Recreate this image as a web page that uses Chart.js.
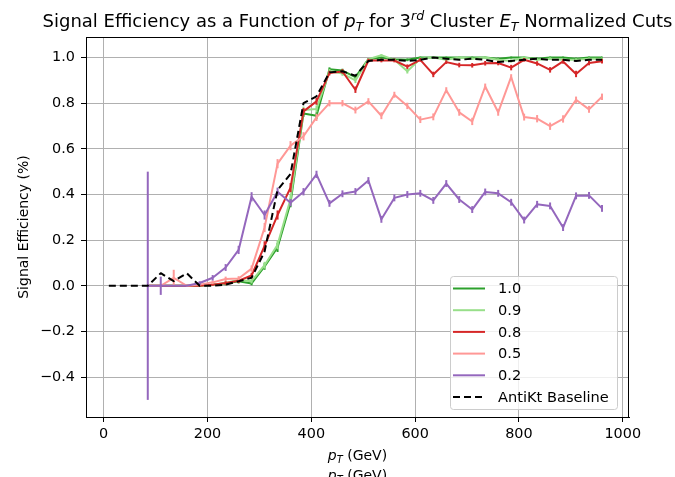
<!DOCTYPE html>
<html>
<head>
<meta charset="utf-8">
<style>
  html, body { margin: 0; padding: 0; background: #ffffff; }
  canvas { display: block; }
</style>
<script src="https://cdn.jsdelivr.net/npm/chart.js@4.4.1/dist/chart.umd.min.js"></script>
</head>
<body>
<canvas id="eff" width="675" height="477"></canvas>
<script>
// pT bin centres (GeV)
const PT_GEV = [10, 35, 60, 85, 110, 135, 160, 185, 210, 235, 260, 285, 310, 335, 360, 385, 410, 435, 460, 485,
                510, 535, 560, 585, 610, 635, 660, 685, 710, 735, 760, 785, 810, 835, 860, 885, 910, 935, 960];

const X_TICKS = [0, 200, 400, 600, 800, 1000];
const Y_TICKS = [-0.4, -0.2, 0.0, 0.2, 0.4, 0.6, 0.8, 1.0];

const CUT_LABELS = ['1.0', '0.9', '0.8', '0.5', '0.2'];
const BASELINE_LABEL = 'AntiKt Baseline';

// signal efficiency per cut value of the 3rd-cluster ET fraction
const EFF_CUT_10 = [null, null, null, 0, 0, 0, 0, 0, 0.005, 0.01, 0.02, 0.01, 0.085, 0.168, 0.364, 0.755, 0.745, 0.949, 0.943, 0.914,
                    0.993, 1.0, 0.993, 0.99, 1.0, 1.0, 1.0, 1.0, 1.0, 1.0, 0.995, 1.0, 1.0, 0.995, 1.0, 1.0, 0.995, 1.0, 1.0];
const EFF_CUT_09 = [null, null, null, 0, 0, 0, 0, 0, 0.005, 0.012, 0.025, 0.02, 0.09, 0.18, 0.38, 0.77, 0.775, 0.94, 0.93, 0.90,
                    0.993, 1.01, 0.99, 0.94, 0.995, 1.0, 0.99, 1.0, 0.995, 1.0, 0.99, 0.985, 1.0, 0.99, 0.995, 0.99, 0.99, 0.995, 0.995];
const EFF_CUT_08 = [null, null, null, 0, 0, 0, 0, 0, 0.005, 0.012, 0.022, 0.045, 0.175, 0.31, 0.43, 0.764, 0.808, 0.932, 0.939, 0.859,
                    0.987, 0.987, 0.987, 0.96, 0.99, 0.926, 0.98, 0.967, 0.966, 0.975, 0.976, 0.956, 0.99, 0.974, 0.946, 0.983, 0.928, 0.976, 0.984];
const EFF_CUT_05 = [null, null, null, 0, 0, 0.035, 0, 0.005, 0.015, 0.03, 0.032, 0.075, 0.255, 0.535, 0.614, 0.655, 0.738, 0.80, 0.80, 0.77,
                    0.808, 0.745, 0.837, 0.788, 0.728, 0.74, 0.857, 0.76, 0.72, 0.873, 0.76, 0.915, 0.739, 0.732, 0.699, 0.731, 0.815, 0.773, 0.828];
const EFF_CUT_02 = [null, null, null, 0, 0, 0, 0, 0.012, 0.035, 0.08, 0.157, 0.39, 0.31, 0.412, 0.364, 0.412, 0.488, 0.361, 0.403, 0.413,
                    0.461, 0.291, 0.385, 0.40, 0.405, 0.374, 0.448, 0.378, 0.334, 0.411, 0.405, 0.366, 0.288, 0.357, 0.35, 0.255, 0.394, 0.396, 0.339];

// statistical uncertainties on the efficiencies
const ERR_CUT_10 = [null, null, null, 0, 0, 0, 0, 0, 0.005, 0.008, 0.01, 0.008, 0.015, 0.02, 0.02, 0.015, 0.015, 0.008, 0.008, 0.01,
                    0.005, 0.004, 0.005, 0.006, 0.004, 0.004, 0.004, 0.004, 0.004, 0.004, 0.005, 0.004, 0.004, 0.005, 0.004, 0.004, 0.005, 0.004, 0.004];
const ERR_CUT_09 = [null, null, null, 0, 0, 0, 0, 0, 0.005, 0.008, 0.01, 0.01, 0.015, 0.02, 0.02, 0.015, 0.015, 0.01, 0.01, 0.012,
                    0.005, 0.005, 0.006, 0.01, 0.005, 0.004, 0.006, 0.004, 0.005, 0.004, 0.006, 0.007, 0.004, 0.006, 0.005, 0.006, 0.006, 0.005, 0.005];
const ERR_CUT_08 = [null, null, null, 0, 0, 0, 0, 0, 0.005, 0.008, 0.01, 0.012, 0.02, 0.02, 0.02, 0.015, 0.015, 0.01, 0.01, 0.014,
                    0.008, 0.008, 0.008, 0.01, 0.008, 0.012, 0.008, 0.01, 0.01, 0.01, 0.01, 0.012, 0.008, 0.01, 0.012, 0.01, 0.014, 0.01, 0.01];
const ERR_CUT_05 = [null, null, null, 0, 0, 0.035, 0, 0.005, 0.008, 0.01, 0.01, 0.014, 0.02, 0.02, 0.02, 0.018, 0.016, 0.014, 0.014, 0.015,
                    0.014, 0.015, 0.013, 0.014, 0.015, 0.015, 0.013, 0.015, 0.016, 0.013, 0.015, 0.012, 0.015, 0.016, 0.016, 0.016, 0.014, 0.015, 0.014];
const ERR_CUT_02 = [null, null, null, 0.5, 0.04, 0, 0, 0.008, 0.012, 0.015, 0.018, 0.02, 0.02, 0.018, 0.016, 0.016, 0.016, 0.015, 0.015, 0.015,
                    0.015, 0.015, 0.015, 0.015, 0.015, 0.015, 0.015, 0.015, 0.015, 0.015, 0.015, 0.015, 0.015, 0.015, 0.015, 0.015, 0.015, 0.015, 0.015];

// anti-kT reference efficiency
const BASELINE = [0, 0, 0, 0, 0.055, 0.02, 0.055, 0, 0, 0.005, 0.02, 0.035, 0.15, 0.42, 0.49, 0.80, 0.83, 0.935, 0.94, 0.92,
                  0.985, 0.99, 0.99, 0.985, 0.99, 1.0, 0.995, 0.99, 0.995, 0.99, 0.98, 0.985, 0.99, 0.995, 0.99, 0.99, 0.985, 0.99, 0.99];

const FONT = '"DejaVu Sans", "Liberation Sans", sans-serif';
Chart.defaults.font.family = FONT;

function toPoints(values) {
  return PT_GEV.map((x, i) => ({ x: x, y: values[i] }));
}

function cutDataset(label, values, errors, color, order) {
  return {
    label: label,
    data: toPoints(values),
    errors: errors,
    borderColor: color,
    backgroundColor: color,
    borderWidth: 2,
    pointRadius: 0,
    fill: false,
    order: order
  };
}

const datasets = [
  cutDataset(CUT_LABELS[0], EFF_CUT_10, ERR_CUT_10, '#2ca02c', 6),
  cutDataset(CUT_LABELS[1], EFF_CUT_09, ERR_CUT_09, '#98df8a', 5),
  cutDataset(CUT_LABELS[2], EFF_CUT_08, ERR_CUT_08, '#d62728', 4),
  cutDataset(CUT_LABELS[3], EFF_CUT_05, ERR_CUT_05, '#ff9896', 3),
  cutDataset(CUT_LABELS[4], EFF_CUT_02, ERR_CUT_02, '#9467bd', 2),
  {
    label: BASELINE_LABEL,
    data: toPoints(BASELINE),
    borderColor: '#000000',
    backgroundColor: '#000000',
    borderWidth: 2,
    borderDash: [7, 4],
    pointRadius: 0,
    fill: false,
    order: 1
  }
];

// draws a run of text pieces: normal, italic, subscript or superscript
function richText(ctx, pieces, x, y, size, align) {
  const fontOf = p => {
    const s = (p.sub || p.sup) ? size * 0.7 : size;
    return (p.it ? 'italic ' : '') + s + 'px ' + FONT;
  };
  let total = 0;
  const widths = pieces.map(p => { ctx.font = fontOf(p); const w = ctx.measureText(p.t).width; total += w; return w; });
  let cx = align === 'center' ? x - total / 2 : x;
  ctx.textBaseline = 'alphabetic';
  ctx.textAlign = 'left';
  pieces.forEach((p, i) => {
    ctx.font = fontOf(p);
    let dy = 0;
    if (p.sub) dy = size * 0.22;
    if (p.sup) dy = -size * 0.38;
    ctx.fillText(p.t, cx, y + dy);
    cx += widths[i];
  });
}

const errorBars = {
  id: 'errorBars',
  afterDatasetDraw(chart, args) {
    const ds = chart.data.datasets[args.index];
    if (!ds.errors) return;
    const ctx = chart.ctx, xs = chart.scales.x, ys = chart.scales.y, a = chart.chartArea;
    ctx.save();
    ctx.beginPath();
    ctx.rect(a.left, a.top, a.right - a.left, a.bottom - a.top);
    ctx.clip();
    ctx.strokeStyle = ds.borderColor;
    ctx.lineWidth = 2;
    ds.data.forEach((pt, i) => {
      const e = ds.errors[i];
      if (pt.y === null || e === null || e === undefined || e <= 0) return;
      const px = xs.getPixelForValue(pt.x);
      ctx.beginPath();
      ctx.moveTo(px, ys.getPixelForValue(pt.y - e));
      ctx.lineTo(px, ys.getPixelForValue(pt.y + e));
      ctx.stroke();
    });
    ctx.restore();
  }
};

const decorations = {
  id: 'decorations',
  afterDatasetsDraw(chart) {
    const ctx = chart.ctx, a = chart.chartArea;
    ctx.save();
    // axes frame
    ctx.strokeStyle = '#000000';
    ctx.lineWidth = 1;
    ctx.strokeRect(Math.round(a.left) + 0.5, Math.round(a.top) + 0.5,
                   Math.round(a.right - a.left) - 1, Math.round(a.bottom - a.top));

    // legend box
    const bx = 450.5, by = 276.5, bw = 167, bh = 133;
    ctx.beginPath();
    ctx.roundRect(bx, by, bw, bh, 3);
    ctx.fillStyle = 'rgba(255,255,255,0.8)';
    ctx.fill();
    ctx.strokeStyle = '#cccccc';
    ctx.stroke();
    chart.data.datasets.forEach((ds, i) => {
      const y = 288.5 + i * 21.7;
      ctx.beginPath();
      ctx.setLineDash(ds.borderDash || []);
      ctx.strokeStyle = ds.borderColor;
      ctx.lineWidth = 2;
      ctx.moveTo(453, y);
      ctx.lineTo(485, y);
      ctx.stroke();
      ctx.setLineDash([]);
      ctx.fillStyle = '#000000';
      ctx.font = '14.6px ' + FONT;
      ctx.textAlign = 'left';
      ctx.textBaseline = 'middle';
      ctx.fillText(ds.label, 498, y + 1);
    });
    ctx.restore();
  },
  afterDraw(chart) {
    const ctx = chart.ctx, a = chart.chartArea;
    const cx = (a.left + a.right) / 2;
    ctx.save();
    ctx.fillStyle = '#000000';
    // title
    richText(ctx, [
      { t: 'Signal Efficiency as a Function of ' },
      { t: 'p', it: true }, { t: 'T', it: true, sub: true },
      { t: ' for 3' }, { t: 'rd', it: true, sup: true },
      { t: ' Cluster ' },
      { t: 'E', it: true }, { t: 'T', it: true, sub: true },
      { t: ' Normalized Cuts' }
    ], cx, 27, 18, 'center');
    // x axis label (drawn twice, second one runs off the bottom edge)
    const xl = [{ t: 'p', it: true }, { t: 'T', it: true, sub: true }, { t: ' (GeV)' }];
    richText(ctx, xl, cx, 460, 14, 'center');
    richText(ctx, xl, cx, 480, 14, 'center');
    // y axis label
    ctx.translate(24, (a.top + a.bottom) / 2);
    ctx.rotate(-Math.PI / 2);
    ctx.font = '14px ' + FONT;
    ctx.textAlign = 'center';
    ctx.textBaseline = 'middle';
    ctx.fillText('Signal Efficiency (%)', 0, 0);
    ctx.restore();
  }
};

function fmtY(v) {
  return v.toFixed(1).replace('-', '\u2212');
}

new Chart(document.getElementById('eff'), {
  type: 'line',
  data: { datasets: datasets },
  options: {
    responsive: false,
    animation: false,
    devicePixelRatio: 1,
    layout: { padding: { top: 37, right: 46, bottom: 0, left: 0 } },
    plugins: { legend: { display: false }, tooltip: { enabled: false }, title: { display: false } },
    elements: { line: { tension: 0, borderJoinStyle: 'round', borderCapStyle: 'butt' }, point: { radius: 0 } },
    scales: {
      x: {
        type: 'linear',
        min: -34,
        max: 1012,
        afterBuildTicks: s => { s.ticks = X_TICKS.map(v => ({ value: v })); },
        afterFit: s => { s.height = 60; },
        grid: { color: '#b0b0b0', lineWidth: 1, tickLength: 5, tickColor: '#000000' },
        border: { display: true, color: '#000000', width: 1 },
        ticks: { color: '#000000', font: { size: 14.4 }, padding: 4, maxRotation: 0, autoSkip: false, callback: v => String(v) }
      },
      y: {
        type: 'linear',
        min: -0.575,
        max: 1.09,
        afterBuildTicks: s => { s.ticks = Y_TICKS.map(v => ({ value: v })); },
        afterFit: s => { s.width = 86; },
        grid: { color: '#b0b0b0', lineWidth: 1, tickLength: 5, tickColor: '#000000' },
        border: { display: true, color: '#000000', width: 1 },
        ticks: { color: '#000000', font: { size: 14.4 }, padding: 6, autoSkip: false, callback: v => fmtY(v) }
      }
    }
  },
  plugins: [errorBars, decorations]
});
</script>
</body>
</html>
